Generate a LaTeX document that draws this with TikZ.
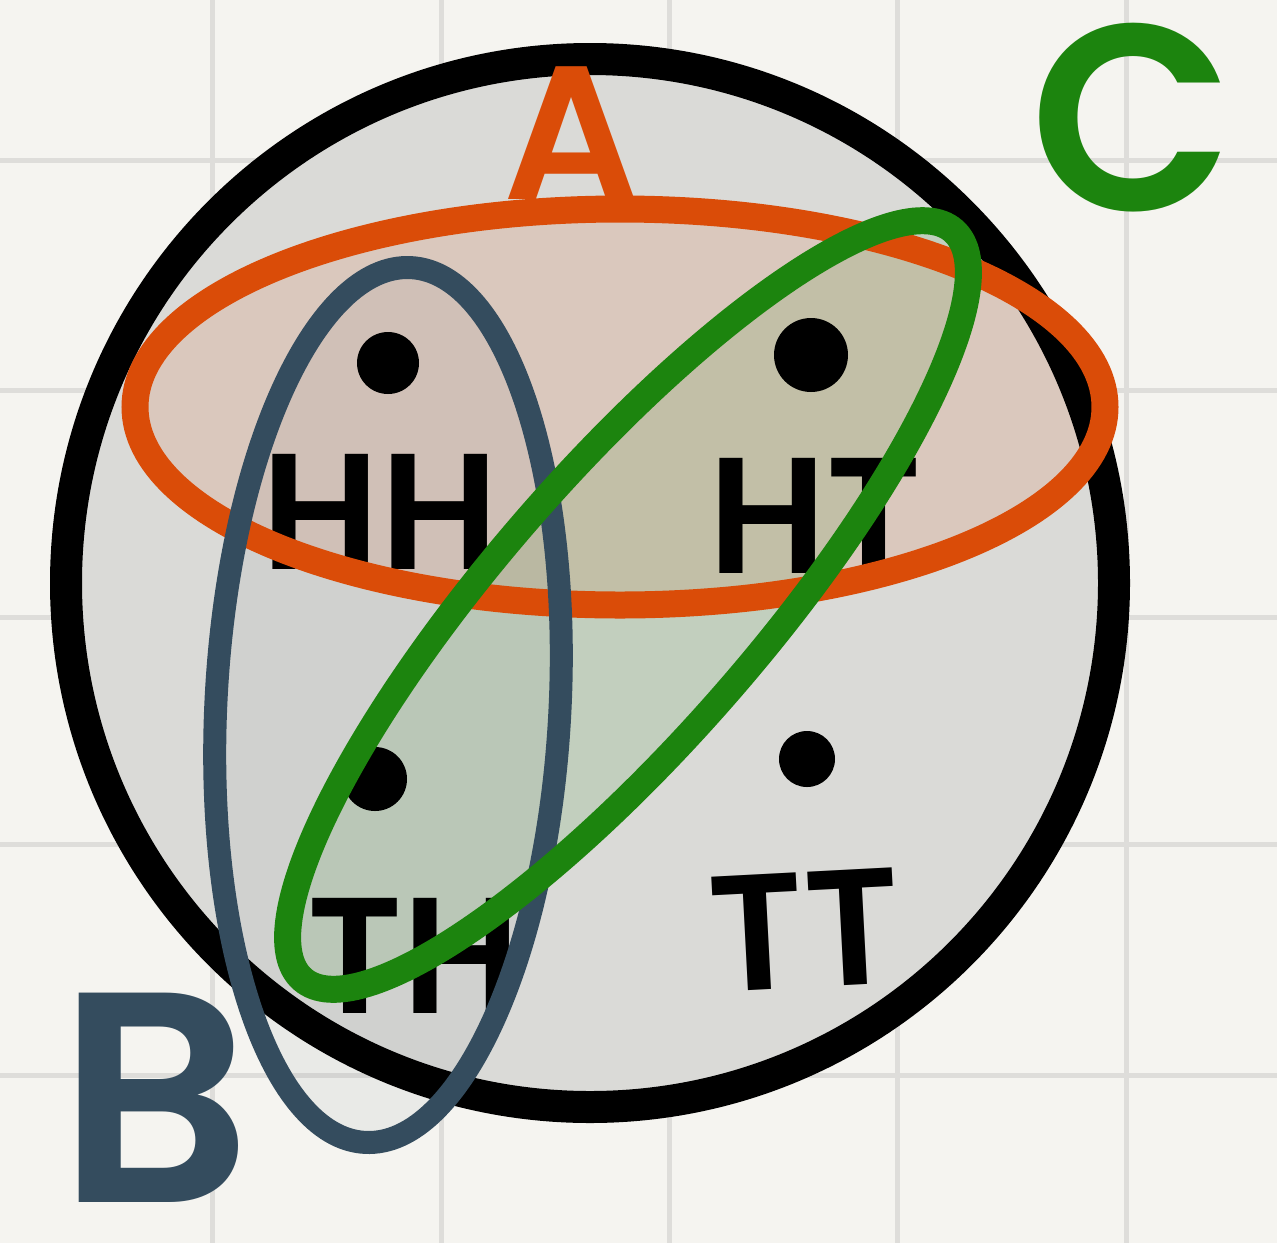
\documentclass[tikz,border=0pt]{standalone}
\usepackage{fontspec}
\setmainfont{Poppins}
\newfontfamily\handfont{Poppins SemiBold}
\usepackage{tikz}
\definecolor{paper}{RGB}{245,244,240}
\definecolor{gridgray}{RGB}{222,221,218}
\definecolor{diskgray}{RGB}{218,218,215}
\definecolor{setorange}{RGB}{218,76,8}
\definecolor{setslate}{RGB}{52,76,94}
\definecolor{setgreen}{RGB}{28,132,14}

\begin{document}
\begin{tikzpicture}[x=1pt, y=-1pt,
  gridline/.style={line width=5pt, draw=gridgray},
  outcome/.style={font=\fontsize{165}{165}\selectfont\handfont, inner sep=0pt, text=black},
  setname/.style={inner sep=0pt},
  blob/.style={circle, fill=black, inner sep=0pt}
]
% paper and grid
\fill[paper] (0,0) rectangle (1277,1243);
\useasboundingbox (0,0) rectangle (1277,1243);
\foreach \gx in {212,441,669,897,1126}
  \draw[gridline] (\gx,0) -- (\gx,1243);
\foreach \gy in {160,390,617,844,1075}
  \draw[gridline] (0,\gy) -- (1277,\gy);

% sample space
\fill[diskgray] (590,583) circle (524);

% set fills
\fill[setorange, fill opacity=0.12] (620,407) ellipse [x radius=485, y radius=198];
\fill[setslate, fill opacity=0.06, rotate around={-3:(388,705)}]
  (388,705) ellipse [x radius=172, y radius=438];
\fill[setgreen, fill opacity=0.12, rotate around={49:(628,605)}]
  (628,605) ellipse [x radius=496, y radius=132];

\draw[line width=32pt] (590,583) circle (524);

% outcomes
\node[blob, minimum size=62pt] (dHH) at (388,363) {};
\node[blob, minimum size=74pt] (dHT) at (811,355) {};
\node[blob, minimum size=64pt] (dTH) at (375,779) {};
\node[blob, minimum size=56pt] (dTT) at (807,759) {};
\node[outcome] (hh) at (380,512) {HH};
\node[outcome] (ht) at (815,516) {HT};
\node[outcome] (th) at (414,956) {TH};
\node[outcome, rotate=3] (tt) at (805,930) {TT};

% events
\draw[setorange, line width=27pt] (620,407) ellipse [x radius=485, y radius=198];
\draw[setslate, line width=23pt, rotate around={-3:(388,705)}]
  (388,705) ellipse [x radius=172, y radius=438];
\draw[setgreen, line width=27pt, rotate around={49:(628,605)}]
  (628,605) ellipse [x radius=496, y radius=132];

% event names
\node[setname, text=setorange, font=\fontsize{190}{190}\selectfont\handfont] (lA) at (572,133) {A};
\node[setname, text=setslate, font=\fontsize{300}{300}\selectfont\handfont] (lB) at (155,1098) {B};
\node[setname, text=setgreen, font=\fontsize{265}{265}\selectfont\handfont] (lC) at (1132,118) {C};
\end{tikzpicture}
\end{document}
